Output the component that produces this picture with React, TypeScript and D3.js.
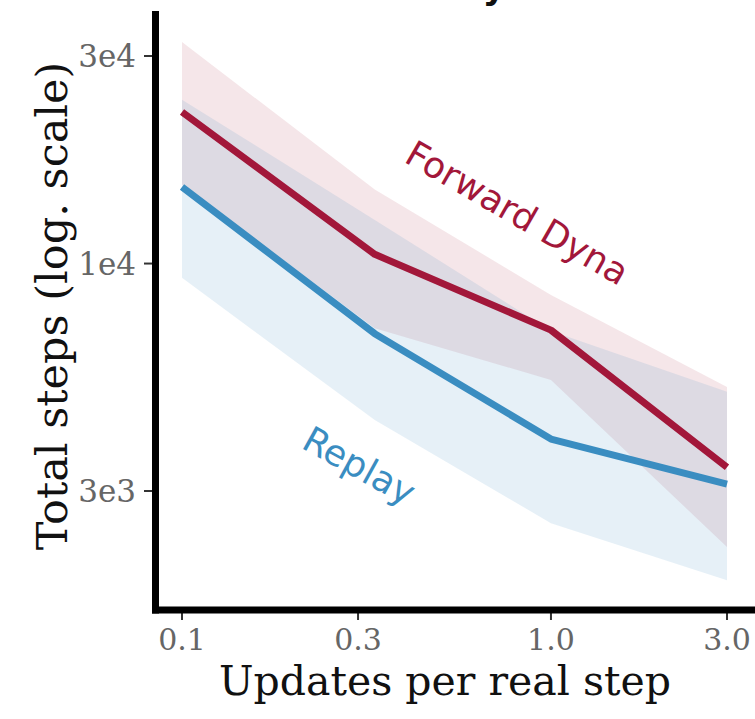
import React from "react";
import * as d3 from "d3";

// Updates per real step (x positions of the runs)
const updateRatios = [0.1, 0.333, 1, 3];

// Total steps for each method: mean and shaded interval
const forwardDynaMean = [22300, 10500, 7030, 3400];
const forwardDynaLow = [15200, 7100, 5400, 2230];
const forwardDynaHigh = [32300, 14800, 8470, 5200];

const replayMean = [15000, 6900, 3950, 3110];
const replayLow = [9270, 4370, 2530, 1870];
const replayHigh = [23800, 12600, 7000, 5070];

// Axis ticks
const xTicks = [0.1, 0.3, 1.0, 3.0];
const xTickLabels = ["0.1", "0.3", "1.0", "3.0"];
const yTicks = [3000, 10000, 30000];
const yTickLabels = ["3e3", "1e4", "3e4"];

const W = 755;
const H = 719;
const RED = "#A2173A";
const BLUE = "#3A8DC1";
const SERIF = "'DejaVu Serif', serif";
const SANS = "'DejaVu Sans', sans-serif";

export default function App() {
  const x = d3.scaleLog().domain([0.1, 3]).range([182, 727]);
  const y = d3.scaleLog().domain([3000, 30000]).range([491, 56]);

  const frameLeft = 155.5;
  const frameTop = 11;
  const frameBottom = 610;

  const pts = (arr: number[]) => arr.map((v, i) => [updateRatios[i], v] as [number, number]);

  const line = d3
    .line<[number, number]>()
    .x((d) => x(d[0]))
    .y((d) => y(d[1]));

  const band = (lo: number[], hi: number[]) =>
    d3
      .area<number>()
      .x((i) => x(updateRatios[i]))
      .y0((i) => y(lo[i]))
      .y1((i) => y(hi[i]))(updateRatios.map((_, i) => i)) || "";

  return (
    <svg
      width={W}
      height={H}
      style={{ position: "absolute", left: 0, top: 0, background: "#fff" }}
    >
      {/* title, sitting above the top edge */}
      <text
        x={506}
        y={-1}
        textAnchor="end"
        fontFamily={SANS}
        fontWeight="bold"
        fontSize={36}
        fill="#111"
      >
        Efficiency
      </text>

      {/* shaded intervals */}
      <path d={band(forwardDynaLow, forwardDynaHigh)} fill={RED} fillOpacity={0.11} />
      <path d={band(replayLow, replayHigh)} fill={BLUE} fillOpacity={0.13} />

      {/* mean lines */}
      <path
        d={line(pts(forwardDynaMean)) || ""}
        fill="none"
        stroke={RED}
        strokeWidth={7}
        strokeLinejoin="round"
      />
      <path
        d={line(pts(replayMean)) || ""}
        fill="none"
        stroke={BLUE}
        strokeWidth={7}
        strokeLinejoin="round"
      />

      {/* series labels */}
      <text
        transform={`translate(516,215) rotate(30)`}
        textAnchor="middle"
        dominantBaseline="middle"
        fontFamily={SANS}
        fontSize={36}
        fill={RED}
      >
        Forward Dyna
      </text>
      <text
        transform={`translate(358,468) rotate(29)`}
        textAnchor="middle"
        dominantBaseline="middle"
        fontFamily={SANS}
        fontSize={36}
        fill={BLUE}
      >
        Replay
      </text>

      {/* y axis */}
      {yTicks.map((t, i) => (
        <g key={`y${i}`}>
          <line x1={144} x2={frameLeft} y1={y(t)} y2={y(t)} stroke="#333" strokeWidth={2} />
          <text
            x={136}
            y={y(t)}
            textAnchor="end"
            dominantBaseline="central"
            fontFamily={SERIF}
            fontSize={31}
            fill="#666"
          >
            {yTickLabels[i]}
          </text>
        </g>
      ))}

      {/* x axis */}
      {xTicks.map((t, i) => (
        <g key={`x${i}`}>
          <line x1={x(t)} x2={x(t)} y1={frameBottom} y2={620} stroke="#333" strokeWidth={2} />
          <text
            x={x(t)}
            y={650}
            textAnchor="middle"
            fontFamily={SERIF}
            fontSize={30}
            fill="#666"
          >
            {xTickLabels[i]}
          </text>
        </g>
      ))}

      {/* spines */}
      <line x1={frameLeft} x2={frameLeft} y1={frameTop} y2={frameBottom + 3.5} stroke="#000" strokeWidth={7} />
      <line x1={frameLeft - 3.5} x2={W} y1={frameBottom} y2={frameBottom} stroke="#000" strokeWidth={7} />

      {/* axis titles */}
      <text
        x={445}
        y={695}
        textAnchor="middle"
        fontFamily={SERIF}
        fontSize={41}
        fill="#111"
      >
        Updates per real step
      </text>
      <text
        transform={`translate(67,306) rotate(-90)`}
        textAnchor="middle"
        fontFamily={SERIF}
        fontSize={43}
        fill="#111"
      >
        Total steps (log. scale)
      </text>
    </svg>
  );
}
